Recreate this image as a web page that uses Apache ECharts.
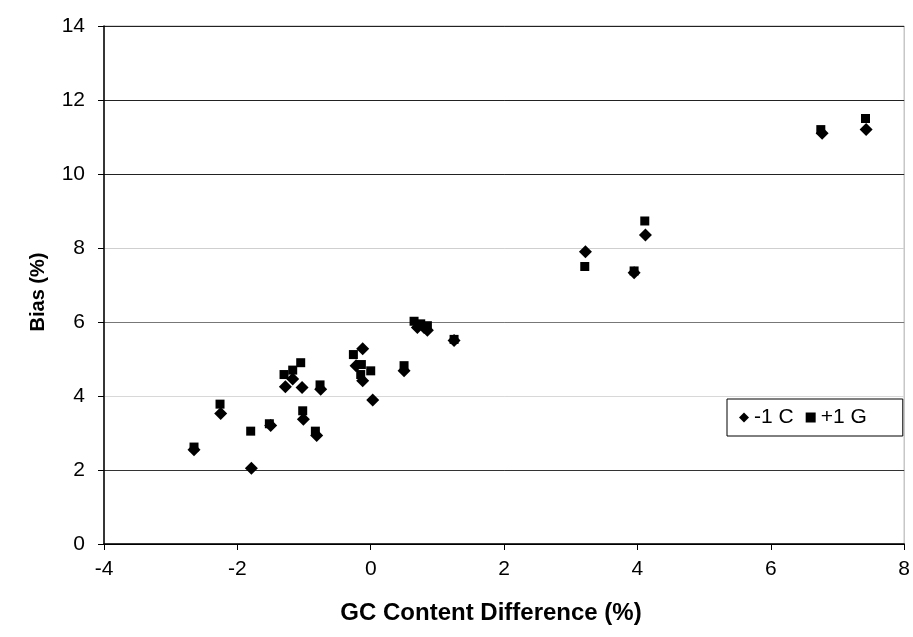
<!DOCTYPE html>
<html>
<head>
<meta charset="utf-8">
<script src="https://cdn.jsdelivr.net/npm/echarts@6/dist/echarts.min.js"></script>
<style>
html,body{margin:0;padding:0;background:#fff;}
#chart{width:913px;height:637px;}
</style>
</head>
<body>
<div id="chart"></div>
<script>
// -1 C (diamonds)
var cX = [-2.65, -2.25, -1.79, -1.50, -1.28, -1.17, -1.03, -1.01, -0.81, -0.75, -0.12, -0.22, -0.12, 0.03, 0.50, 0.70, 0.80, 0.85, 1.25, 3.22, 3.95, 4.12, 6.77, 7.43];
var cY = [2.55, 3.53, 2.05, 3.20, 4.25, 4.46, 4.23, 3.37, 2.93, 4.18, 5.28, 4.82, 4.41, 3.89, 4.68, 5.85, 5.85, 5.78, 5.50, 7.90, 7.33, 8.35, 11.10, 11.20];
// +1 G (squares)
var gX = [-2.65, -2.26, -1.80, -1.52, -1.30, -1.17, -1.05, -1.02, -0.83, -0.76, -0.26, -0.14, -0.15, 0.00, 0.50, 0.65, 0.75, 0.85, 1.25, 3.21, 3.95, 4.11, 6.75, 7.42];
var gY = [2.62, 3.78, 3.05, 3.25, 4.58, 4.70, 4.90, 3.60, 3.05, 4.30, 5.12, 4.85, 4.58, 4.68, 4.82, 6.02, 5.95, 5.90, 5.53, 7.50, 7.38, 8.73, 11.20, 11.50];
var seriesNames = ['-1 C', '+1 G'];
var xTitle = 'GC Content Difference (%)';
var yTitle = 'Bias (%)';

function pairs(xs, ys){ return xs.map(function(x,i){ return [x, ys[i]]; }); }

var FONT = '"Liberation Sans", Arial, sans-serif';
var chart = echarts.init(document.getElementById('chart'), null, {renderer:'canvas'});
chart.setOption({
  backgroundColor: '#ffffff',
  animation: false,
  grid: {left: 104, right: 6, top: 26, bottom: 93, show: true, borderColor: '#aaa', borderWidth: 1},
  xAxis: {
    type: 'value', min: -4, max: 8, interval: 2,
    axisLine: {show: true, onZero: false, lineStyle: {color: '#000', width: 1.5}},
    axisTick: {show: true, length: 6, lineStyle: {color: '#000'}},
    axisLabel: {color: '#000', fontSize: 21, fontFamily: FONT, margin: 15},
    splitLine: {show: false}
  },
  yAxis: {
    type: 'value', min: 0, max: 14, interval: 2,
    axisLine: {show: true, onZero: false, lineStyle: {color: '#000', width: 1.5}},
    axisTick: {show: true, length: 6, lineStyle: {color: '#000'}},
    axisLabel: {color: '#000', fontSize: 21, fontFamily: FONT, margin: 19},
    splitLine: {show: true, lineStyle: {color: ['#000', '#333', '#d8d8d8', '#777', '#cfcfcf', '#222', '#222', '#222'], width: 1}}
  },
  legend: {
    show: true,
    left: 727, top: 399,
    orient: 'horizontal',
    backgroundColor: '#fff',
    borderColor: '#000', borderWidth: 1,
    padding: [8, 36, 8, 12],
    itemWidth: 10, itemHeight: 10, itemGap: 12,
    textStyle: {color: '#000', fontSize: 21, fontFamily: FONT},
    data: [
      {name: seriesNames[0], icon: 'diamond'},
      {name: seriesNames[1], icon: 'rect'}
    ]
  },
  graphic: [
    {type: 'text', x: 491, y: 613, style: {text: xTitle, font: 'bold 24px ' + FONT, fill: '#000', align: 'center', verticalAlign: 'middle'}},
    {type: 'text', x: 38, y: 292, rotation: Math.PI/2, style: {text: yTitle, font: 'bold 20px ' + FONT, fill: '#000', align: 'center', verticalAlign: 'middle'}}
  ],
  series: [
    {name: seriesNames[0], type: 'scatter', symbol: 'diamond', symbolSize: 13,
     itemStyle: {color: '#000', opacity: 1}, data: pairs(cX, cY)},
    {name: seriesNames[1], type: 'scatter', symbol: 'rect', symbolSize: 9,
     itemStyle: {color: '#000', opacity: 1}, data: pairs(gX, gY)}
  ]
});
</script>
</body>
</html>
